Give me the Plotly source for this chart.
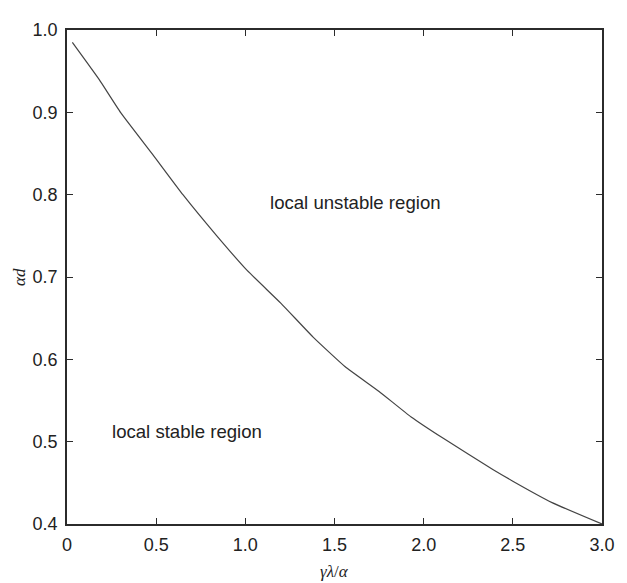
import plotly.graph_objects as go

# Data
x_vals = [0.03, 0.18, 0.30, 0.48, 0.65, 0.84, 1.01, 1.20, 1.38, 1.56, 1.75, 1.93, 2.11, 2.39, 2.50, 2.72, 3.00]
y_vals = [0.985, 0.940, 0.900, 0.849, 0.800, 0.750, 0.708, 0.668, 0.627, 0.591, 0.561, 0.530, 0.504, 0.466, 0.452, 0.426, 0.400]

x_ticks = [0, 0.5, 1.0, 1.5, 2.0, 2.5, 3.0]
x_tick_labels = ["0", "0.5", "1.0", "1.5", "2.0", "2.5", "3.0"]
y_ticks = [0.4, 0.5, 0.6, 0.7, 0.8, 0.9, 1.0]
y_tick_labels = ["0.4", "0.5", "0.6", "0.7", "0.8", "0.9", "1.0"]

region_labels = ["local unstable region", "local stable region"]
region_x = [1.129, 0.240]
region_y = [0.790, 0.512]

x_title = "<i>γλ</i>/<i>α</i>"
y_title = "<i>αd</i>"

AX = "#2b2b2b"
SANS = "Liberation Sans, Arial, sans-serif"
SERIF = "Liberation Serif, Times New Roman, serif"

fig = go.Figure()
fig.add_trace(go.Scatter(x=x_vals, y=y_vals, mode="lines",
                         line=dict(color="#444444", width=1.2, shape="spline", smoothing=0.4),
                         showlegend=False, hoverinfo="skip"))

axis_common = dict(showline=True, linecolor=AX, linewidth=1.6, mirror="ticks",
                   ticks="inside", ticklen=6, tickwidth=1.2, tickcolor=AX,
                   showgrid=False, zeroline=False, ticklabelstandoff=4,
                   tickfont=dict(family=SANS, size=18, color="#222222"))

fig.update_xaxes(range=[0, 3.0], tickvals=x_ticks, ticktext=x_tick_labels, **axis_common)
fig.update_yaxes(range=[0.4, 1.0], tickvals=y_ticks, ticktext=y_tick_labels, **axis_common)

for txt, xx, yy in zip(region_labels, region_x, region_y):
    fig.add_annotation(x=xx, y=yy, xref="x", yref="y", text=txt, showarrow=False,
                       xanchor="left", yanchor="middle",
                       font=dict(family=SANS, size=18.6, color="#222222"))

fig.add_annotation(x=0.5, y=0, xref="paper", yref="paper", text=x_title, showarrow=False,
                   xanchor="center", yanchor="middle", yshift=-47,
                   font=dict(family=SERIF, size=17, color="#222222"))
fig.add_annotation(x=0, y=0.5, xref="paper", yref="paper", text=y_title, showarrow=False,
                   xanchor="center", yanchor="middle", xshift=-48, textangle=-90,
                   font=dict(family=SERIF, size=17, color="#222222"))

# the page body adds an 8px margin, so the figure is sized to fit inside the window
fig.update_layout(width=619, height=575,
                  margin=dict(l=59, r=16, t=12, b=59, pad=0),
                  plot_bgcolor="white", paper_bgcolor="white")

fig.write_html("out.html")
